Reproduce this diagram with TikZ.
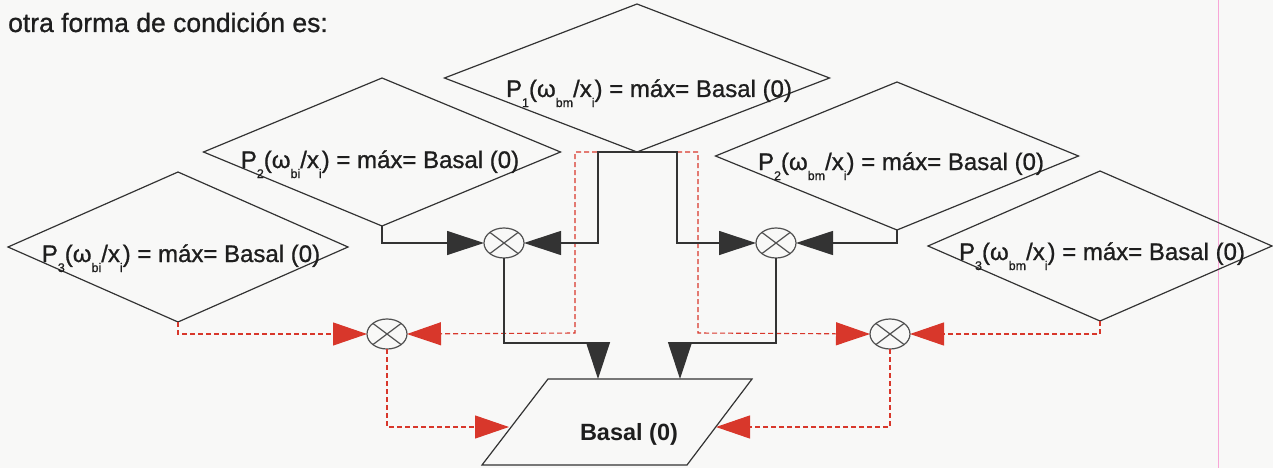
\documentclass[tikz,border=0pt]{standalone}
\usepackage{fontspec}
\setmainfont{Liberation Sans}
\newfontfamily\heavyfont{Liberation Sans}[FakeBold=0.9]
\usetikzlibrary{shapes.geometric,arrows.meta}
\definecolor{linec}{HTML}{333333}
\definecolor{redc}{HTML}{D8372B}
\definecolor{txt}{HTML}{1E1E1E}
\definecolor{bgc}{HTML}{F8F8F7}
\definecolor{circc}{HTML}{505050}
\newcommand{\sbx}[1]{\raisebox{-10pt}{\fontsize{12.5}{13}\selectfont #1}}
\tikzset{
  diam/.style={diamond, draw=linec, line width=1.2pt, inner sep=0pt, outer sep=0pt},
  dtext/.style={anchor=base, inner sep=0pt, text=txt, font=\heavyfont\fontsize{24}{28}\selectfont},
  mult/.style={ellipse, draw=circc, line width=1.2pt, minimum width=40pt, minimum height=30pt,
    inner sep=0pt, outer sep=0pt,
    path picture={\draw[circc, line width=1.2pt]
      (path picture bounding box.south west) -- (path picture bounding box.north east)
      (path picture bounding box.north west) -- (path picture bounding box.south east);}},
  blk/.style={draw=linec, line width=1.2pt, -{Triangle[length=37pt,width=24pt]}},
  red/.style={draw=redc, line width=1.1pt, dash pattern=on 5pt off 3pt,
    -{Triangle[length=34pt,width=23pt]}}
}
\begin{document}
\begin{tikzpicture}[x=1pt,y=-1pt]
\fill[bgc] (0,0) rectangle (1273,468);
\useasboundingbox (0,0) rectangle (1273,468);
% page margin line
\draw[magenta!35, line width=0.8pt] (1218,0) -- (1218,468);

\node[anchor=base west, inner sep=0pt, text=txt, font=\heavyfont\fontsize{26.5}{30}\selectfont] (title) at (8,32) {otra forma de condición es:};

% diamonds
\node[diam, minimum width=385pt, minimum height=148pt] (p1) at (637,78) {};
\node[diam, minimum width=357pt, minimum height=148pt] (p2bi) at (382,152) {};
\node[diam, minimum width=340pt, minimum height=150pt] (p3bi) at (178,247) {};
\node[diam, minimum width=363pt, minimum height=148pt] (p2bm) at (897,156) {};
\node[diam, minimum width=344pt, minimum height=150pt] (p3bm) at (1100,246) {};

\node[dtext] (t1) at (649,97) {P\sbx{1}(ω\sbx{bm}/x\sbx{i}) = máx= Basal (0)};
\node[dtext] (t2) at (380,168) {P\sbx{2}(ω\sbx{bi}/x\sbx{i}) = máx= Basal (0)};
\node[dtext] (t3) at (181,262) {P\sbx{3}(ω\sbx{bi}/x\sbx{i}) = máx= Basal (0)};
\node[dtext] (t4) at (901,170) {P\sbx{2}(ω\sbx{bm}/x\sbx{i}) = máx= Basal (0)};
\node[dtext] (t5) at (1102,260) {P\sbx{3}(ω\sbx{bm}/x\sbx{i}) = máx= Basal (0)};

% multipliers
\node[mult] (m1) at (504,243) {};
\node[mult] (m2) at (776,243) {};
\node[mult] (m3) at (387,334) {};
\node[mult] (m4) at (890,334) {};

% parallelogram
\coordinate (pa) at (548,379);
\coordinate (pb) at (752,379);
\coordinate (pc) at (687,465);
\coordinate (pd) at (482,465);
\draw[linec, line width=1.2pt] (pa) -- (pb) -- (pc) -- (pd) -- cycle;
\node[anchor=base, inner sep=0pt, text=txt, font=\bfseries\fontsize{23.5}{28}\selectfont] (basal) at (629,440) {Basal (0)};

% junction coordinates
\coordinate (j1) at (598,243);
\coordinate (j2) at (677,243);
\coordinate (j3) at (598,343);
\coordinate (j4) at (680,343);
\coordinate (bt1) at (598,379);
\coordinate (bt2) at (680,379);
\coordinate (r1) at (575,333);
\coordinate (r2) at (698,333);
\coordinate (bl) at (509,427);
\coordinate (br) at (716,427);

% red dashed connectors
\draw[red] (p3bi.south) |- (m3.west);
\draw[red] (p1.south) -| (r1) -- (m3.east);
\draw[red] (p1.south) -| (r2) -- (m4.west);
\draw[red] (p3bm.south) |- (m4.east);
\draw[red] (m3.south) |- (bl);
\draw[red] (m4.south) |- (br);

% black connectors
\draw[blk] (p2bi.south) |- (m1.west);
\draw[blk] (p1.south) -| (j1) -- (m1.east);
\draw[blk] (p1.south) -| (j2) -- (m2.west);
\draw[blk] (p2bm.south) |- (m2.east);
\draw[blk] (m1.south) |- (j3) -- (bt1);
\draw[blk] (m2.south) |- (j4) -- (bt2);
\end{tikzpicture}
\end{document}
